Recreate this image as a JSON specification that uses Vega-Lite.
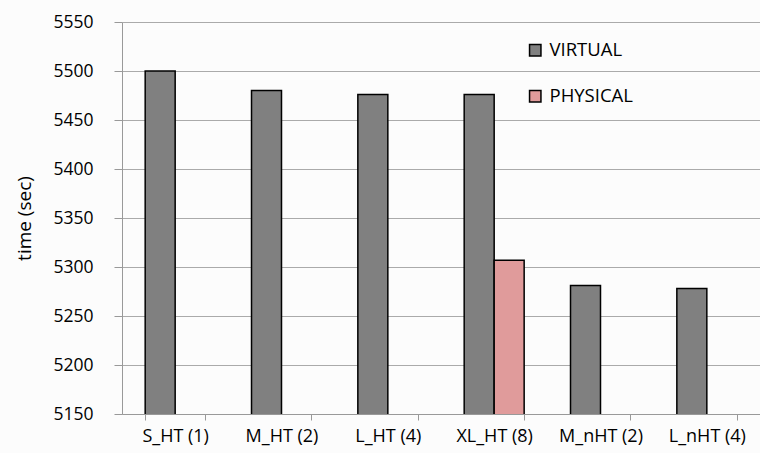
{
  "$schema": "https://vega.github.io/schema/vega-lite/v6.json",
  "width": 638,
  "height": 392,
  "autosize": {"type": "none"},
  "padding": {"left": 122, "top": 22, "right": 0, "bottom": 39},
  "background": "#fcfcfc",
  "data": {
    "values": [
      {"config": "S_HT (1)", "type": "VIRTUAL", "time": 5500},
      {"config": "M_HT (2)", "type": "VIRTUAL", "time": 5480},
      {"config": "L_HT (4)", "type": "VIRTUAL", "time": 5476},
      {"config": "XL_HT (8)", "type": "VIRTUAL", "time": 5476},
      {"config": "XL_HT (8)", "type": "PHYSICAL", "time": 5307},
      {"config": "M_nHT (2)", "type": "VIRTUAL", "time": 5281},
      {"config": "L_nHT (4)", "type": "VIRTUAL", "time": 5278}
    ]
  },
  "mark": {"type": "bar", "stroke": "#000000", "strokeWidth": 1.5, "clip": true},
  "encoding": {
    "x": {
      "field": "config",
      "type": "nominal",
      "sort": null,
      "scale": {"paddingInner": 0.436, "paddingOuter": 0.218},
      "axis": {
        "title": null,
        "labelAngle": 0,
        "tickBand": "extent",
        "tickSize": 6,
        "tickColor": "#999999",
        "domainColor": "#999999",
        "labelFont": "Open Sans",
        "labelFontSize": 18,
        "labelColor": "#000000",
        "labelPadding": 7
      }
    },
    "xOffset": {
      "field": "type",
      "type": "nominal",
      "sort": ["VIRTUAL", "PHYSICAL"],
      "scale": {"paddingInner": 0, "paddingOuter": 0}
    },
    "y": {
      "field": "time",
      "type": "quantitative",
      "scale": {"domain": [5150, 5550], "zero": false, "nice": false},
      "axis": {
        "title": "time (sec)",
        "format": "d",
        "values": [5150, 5200, 5250, 5300, 5350, 5400, 5450, 5500, 5550],
        "tickSize": 8,
        "tickColor": "#999999",
        "domainColor": "#999999",
        "gridColor": "#aaaaaa",
        "labelFont": "Open Sans",
        "labelFontSize": 17.5,
        "labelColor": "#000000",
        "labelPadding": 21,
        "titleFont": "Open Sans",
        "titleFontSize": 19,
        "titleFontWeight": "normal",
        "titleColor": "#000000",
        "titlePadding": 18
      }
    },
    "color": {
      "field": "type",
      "type": "nominal",
      "sort": ["VIRTUAL", "PHYSICAL"],
      "scale": {"domain": ["VIRTUAL", "PHYSICAL"], "range": ["#808080", "#e09b9b"]},
      "legend": {
        "title": null,
        "orient": "none",
        "legendX": 404,
        "legendY": 19,
        "symbolType": "square",
        "symbolSize": 130,
        "symbolStrokeColor": "#000000",
        "symbolStrokeWidth": 1.5,
        "labelFont": "Open Sans",
        "labelFontSize": 18.5,
        "labelColor": "#000000",
        "labelOffset": 5,
        "rowPadding": 27
      }
    }
  },
  "config": {"view": {"stroke": null}}
}
